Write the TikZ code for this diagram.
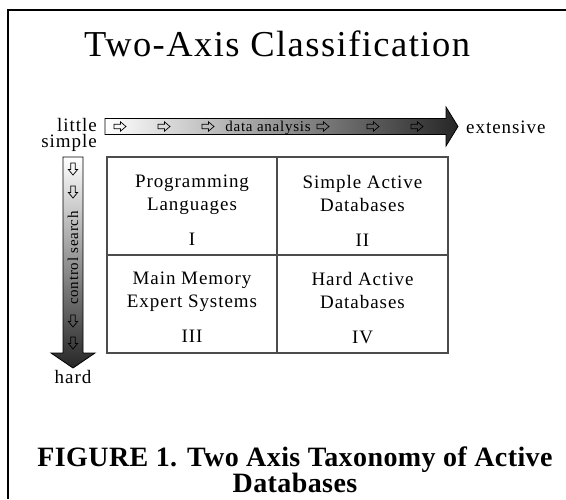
\documentclass[tikz,border=0pt]{standalone}
\usepackage{fontspec}
\setmainfont{Liberation Serif}
\newfontfamily\lsfont{Liberation Serif}[LetterSpace=5]
\newfontfamily\ttlfont{Liberation Serif}[LetterSpace=4]
\newfontfamily\capfont{Liberation Serif}[LetterSpace=1.5]
\tikzset{
  frameline/.style={line width=2pt},
  gridline/.style={draw=black!70, line width=1.1pt},
  axisarrow/.style={draw=black, line width=0.8pt},
  lbl/.style={font=\lsfont\fontsize{19}{23}\selectfont, inner sep=0pt},
  smalllbl/.style={font=\lsfont\fontsize{15}{18}\selectfont, inner sep=0pt},
  celltext/.style={font=\lsfont\fontsize{19}{23}\selectfont, inner sep=0pt, align=center, anchor=north},
  warrow/.pic={\draw[line width=0.7pt]
     (-6,-2.2) -- (0.5,-2.2) -- (0.5,-4.6) -- (6,0) -- (0.5,4.6) -- (0.5,2.2) -- (-6,2.2) -- cycle;},
}
\begin{document}
\begin{tikzpicture}[x=1pt, y=-1pt]
\useasboundingbox (0,0) rectangle (566,499);
% frame
\draw[frameline] (566,10) -- (7.5,10) -- (7.5,499);
% title
\node[font=\ttlfont\fontsize{36.5}{40}\selectfont, inner sep=0pt, anchor=base] (title) at (277,56) {Two-Axis Classification};
% horizontal axis arrow
\draw[axisarrow, left color=white, middle color=black!22, right color=black!85]
  (105,118.5) -- (446,118.5) -- (446,107) -- (458,126.5) -- (446,146) -- (446,134.5) -- (105,134.5) -- cycle;
% vertical axis arrow
\draw[axisarrow, top color=white, middle color=black!22, bottom color=black!85]
  (63,157) -- (83,157) -- (83,353) -- (95,353) -- (73,368) -- (51,353) -- (63,353) -- cycle;
% small arrows on horizontal axis
\foreach \x in {120,164,208,323,373,417}
  \pic at (\x,126.5) {warrow};
% small arrows on vertical axis
\foreach \y in {169,192,321,343}
  \pic[rotate=-90] at (73,\y) {warrow};
\node[smalllbl, anchor=base] (data) at (268,131) {data analysis};
\node[smalllbl, rotate=90] (ctrl) at (73,258) {control search};
% axis labels
\node[lbl, anchor=base east] (little) at (97,131.5) {little};
\node[lbl, anchor=base east] (simple) at (97,147.5) {simple};
\node[lbl, anchor=base west] (extensive) at (466,133) {extensive};
\node[lbl, anchor=base] (hard) at (73,383) {hard};
% grid
\draw[gridline] (107,157) rectangle (448,353);
\draw[gridline] (277,157) -- (277,353);
\draw[gridline] (107,255) -- (448,255);
% cells
\node[celltext] (c1) at (192,175) {Programming\\Languages\\[12pt]I};
\node[celltext] (c2) at (362.5,175) {Simple Active\\Databases\\[12pt]II};
\node[celltext] (c3) at (192,272) {Main Memory\\Expert Systems\\[12pt]III};
\node[celltext] (c4) at (362.5,272) {Hard Active\\Databases\\[12pt]IV};
% caption
\node[font=\capfont\bfseries\fontsize{28}{23}\selectfont, inner sep=0pt, align=center, anchor=south] (caption) at (295,493)
  {FIGURE 1. Two Axis Taxonomy of Active\\Databases};
\end{tikzpicture}
\end{document}
